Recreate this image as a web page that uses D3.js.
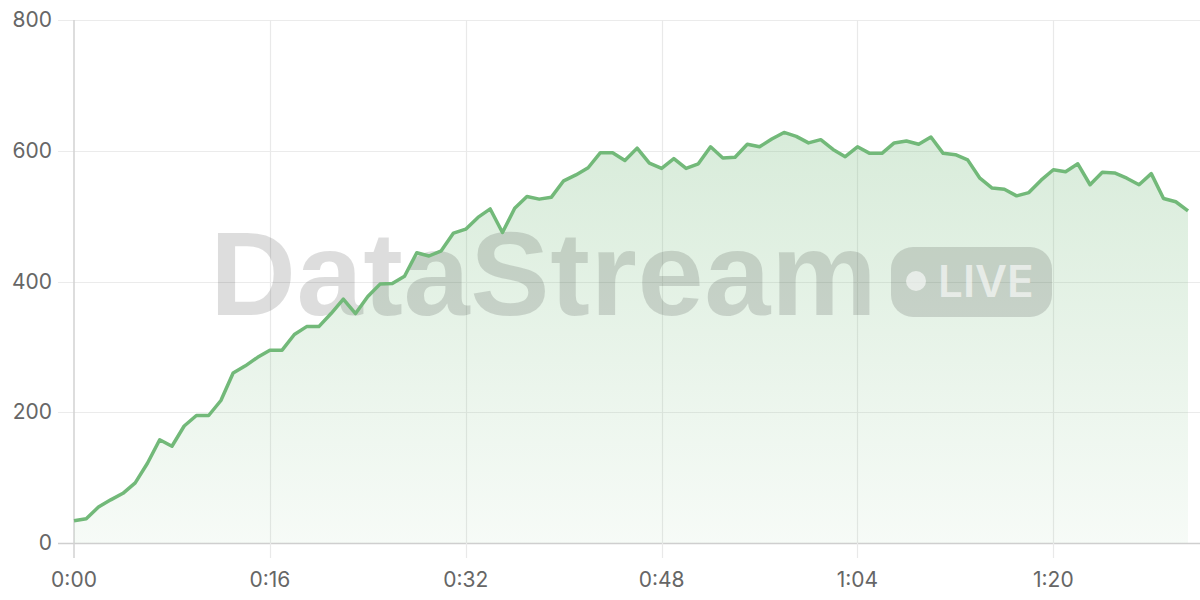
<!DOCTYPE html>
<html>
<head>
<meta charset="utf-8">
<script src="https://cdn.jsdelivr.net/npm/d3@7"></script>
<style>
  html, body { margin: 0; padding: 0; background: #fff; }
  svg { display: block; }
  text { font-family: "Liberation Sans", Arial, sans-serif; }
  .tick-label { font-family: Inter, "Liberation Sans", sans-serif; }
  .badge { font-family: Inter, "Liberation Sans", sans-serif; }
</style>
</head>
<body>
<svg id="chart" width="1200" height="600"></svg>
<script>
// ---- data ----
const seconds = d3.range(0, 92);
const values = [
  34, 37, 55, 66, 76, 92, 122, 158, 148, 179,
  195, 195, 218, 260, 271, 284, 295, 295, 319, 331,
  331, 351, 373, 351, 377, 396, 397, 408, 444, 439,
  447, 474, 480, 498, 511, 475, 512, 530, 526, 529,
  554, 563, 574, 597, 597, 585, 604, 581, 573, 588,
  573, 580, 606, 589, 590, 610, 606, 618, 628, 622,
  612, 617, 602, 591, 606, 596, 596, 612, 615, 610,
  621, 596, 594, 586, 558, 543, 541, 531, 536, 555,
  571, 568, 580, 548, 567, 566, 558, 548, 565, 527,
  522, 508
];
const yTicks = [0, 200, 400, 600, 800];
const xTicks = [0, 16, 32, 48, 64, 80];
const watermarkText = "DataStream";
const badgeText = "LIVE";

const data = seconds.map((s, i) => ({ t: s, v: values[i] }));

// ---- layout ----
const svg = d3.select("#chart");
const mLeft = 74, mRight = 1188, mTop = 20, mBottom = 543;
const x = d3.scaleLinear().domain([0, d3.max(seconds)]).range([mLeft, mRight]);
const y = d3.scaleLinear().domain([0, 800]).range([mBottom, mTop]);

const fmt = s => `${Math.floor(s / 60)}:${String(s % 60).padStart(2, "0")}`;

// gradient
const defs = svg.append("defs");
const grad = defs.append("linearGradient").attr("id", "areaGrad")
  .attr("gradientUnits", "userSpaceOnUse")
  .attr("x1", 0).attr("x2", 0).attr("y1", y(640)).attr("y2", y(0));
grad.append("stop").attr("offset", "0%").attr("stop-color", "#72b979").attr("stop-opacity", 0.28);
grad.append("stop").attr("offset", "100%").attr("stop-color", "#72b979").attr("stop-opacity", 0.06);

// horizontal gridlines
svg.append("g").selectAll("line").data(yTicks).join("line")
  .attr("x1", 58).attr("x2", 1200)
  .attr("y1", d => Math.round(y(d)) + 0.5).attr("y2", d => Math.round(y(d)) + 0.5)
  .attr("stroke", d => d === 0 ? "#cfcfcf" : "#ebebeb").attr("stroke-width", d => d === 0 ? 1.5 : 1.2);

// vertical gridlines
svg.append("g").selectAll("line").data(xTicks.filter(d => d > 0)).join("line")
  .attr("x1", d => Math.round(x(d)) + 0.5).attr("x2", d => Math.round(x(d)) + 0.5)
  .attr("y1", mTop).attr("y2", mBottom + 15)
  .attr("stroke", "#e9e9e9").attr("stroke-width", 1.2);

// y axis line
svg.append("line")
  .attr("x1", mLeft).attr("x2", mLeft).attr("y1", mTop).attr("y2", mBottom + 15)
  .attr("stroke", "#d2d2d2").attr("stroke-width", 1.5);

// area
svg.append("path").datum(data)
  .attr("fill", "url(#areaGrad)")
  .attr("d", d3.area().x(d => x(d.t)).y0(y(0)).y1(d => y(d.v)));

// watermark
const wm = svg.append("g");
wm.append("text")
  .attr("x", 210).attr("y", 315)
  .attr("font-size", 119).attr("font-weight", 700)
  .attr("fill", "rgba(0,0,0,0.135)")
  .attr("letter-spacing", 0.6)
  .text(watermarkText);
const pill = wm.append("g");
pill.append("rect")
  .attr("x", 891).attr("y", 247).attr("width", 161).attr("height", 70).attr("rx", 22)
  .attr("fill", "rgba(0,0,0,0.135)");
pill.append("circle").attr("cx", 916).attr("cy", 281).attr("r", 10)
  .attr("fill", "rgba(255,255,255,0.6)");
pill.append("text")
  .attr("class", "badge")
  .attr("x", 938).attr("y", 297)
  .attr("font-size", 44).attr("font-weight", 600)
  .attr("fill", "rgba(255,255,255,0.6)")
  .text(badgeText);

// line
svg.append("path").datum(data)
  .attr("fill", "none")
  .attr("stroke", "#72b979")
  .attr("stroke-width", 3.5)
  .attr("stroke-linejoin", "round")
  .attr("d", d3.line().x(d => x(d.t)).y(d => y(d.v)));

// y labels
svg.append("g").selectAll("text").data(yTicks).join("text")
  .attr("class", "tick-label")
  .attr("x", 52).attr("y", d => y(d) + 7)
  .attr("text-anchor", "end")
  .attr("font-size", 21).attr("fill", "#666")
  .text(d => d);

// x labels
svg.append("g").selectAll("text").data(xTicks).join("text")
  .attr("class", "tick-label")
  .attr("x", d => x(d)).attr("y", 587)
  .attr("text-anchor", "middle")
  .attr("font-size", 21).attr("fill", "#666")
  .text(fmt);
</script>
</body>
</html>
